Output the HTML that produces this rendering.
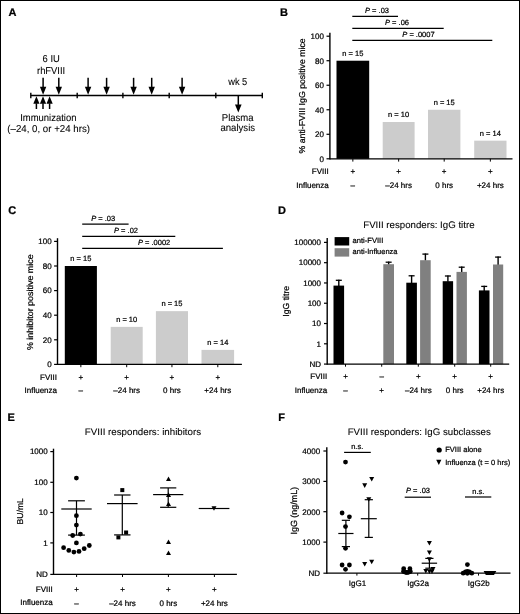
<!DOCTYPE html>
<html><head><meta charset="utf-8"><style>
html,body{margin:0;padding:0;background:#fff;}
svg{display:block;}
text{font-family:"Liberation Sans", sans-serif;stroke:#000;stroke-width:0.22px;text-rendering:geometricPrecision;}
text.L{stroke-width:0.08px;}
svg{will-change:transform;}
</style></head><body>
<svg width="520" height="614" viewBox="0 0 520 614" font-family='"Liberation Sans", sans-serif'>
<rect width="520" height="614" fill="#fff"/>
<rect x="0.5" y="0.5" width="519" height="613" fill="none" stroke="#000" stroke-width="1"/>
<text x="8.4" y="16.4" font-size="11" font-weight="bold">A</text>
<text x="280" y="16.4" font-size="11" font-weight="bold">B</text>
<text x="8.2" y="213.9" font-size="11" font-weight="bold">C</text>
<text x="278" y="213.7" font-size="11" font-weight="bold">D</text>
<text x="7.5" y="420.7" font-size="11" font-weight="bold">E</text>
<text x="278.2" y="420.7" font-size="11" font-weight="bold">F</text>
<text x="51.2" y="62.3" font-size="10" class="L" text-anchor="middle" textLength="17.2" lengthAdjust="spacingAndGlyphs">6 IU</text>
<text x="51.1" y="74" font-size="10" class="L" text-anchor="middle" textLength="28.2" lengthAdjust="spacingAndGlyphs">rhFVIII</text>
<line x1="43.1" y1="77.8" x2="43.1" y2="87.2" stroke="#000" stroke-width="1.5"/>
<path d="M39.9 86.7L43.1 94.8L46.3 86.7Z"/>
<line x1="58.8" y1="77.8" x2="58.8" y2="87.2" stroke="#000" stroke-width="1.5"/>
<path d="M55.6 86.7L58.8 94.8L62 86.7Z"/>
<line x1="88.1" y1="77.8" x2="88.1" y2="87.2" stroke="#000" stroke-width="1.5"/>
<path d="M84.9 86.7L88.1 94.8L91.3 86.7Z"/>
<line x1="106.6" y1="77.8" x2="106.6" y2="87.2" stroke="#000" stroke-width="1.5"/>
<path d="M103.4 86.7L106.6 94.8L109.8 86.7Z"/>
<line x1="133.6" y1="77.8" x2="133.6" y2="87.2" stroke="#000" stroke-width="1.5"/>
<path d="M130.4 86.7L133.6 94.8L136.8 86.7Z"/>
<line x1="151.7" y1="77.8" x2="151.7" y2="87.2" stroke="#000" stroke-width="1.5"/>
<path d="M148.5 86.7L151.7 94.8L154.9 86.7Z"/>
<line x1="182.1" y1="77.8" x2="182.1" y2="87.2" stroke="#000" stroke-width="1.5"/>
<path d="M178.9 86.7L182.1 94.8L185.3 86.7Z"/>
<line x1="30.8" y1="95.5" x2="262.3" y2="95.5" stroke="#000" stroke-width="1.3"/>
<line x1="30.8" y1="92.7" x2="30.8" y2="98.2" stroke="#000" stroke-width="1.4"/>
<line x1="77.2" y1="92.7" x2="77.2" y2="98.2" stroke="#000" stroke-width="1.4"/>
<line x1="122.9" y1="92.7" x2="122.9" y2="98.2" stroke="#000" stroke-width="1.4"/>
<line x1="169.2" y1="92.7" x2="169.2" y2="98.2" stroke="#000" stroke-width="1.4"/>
<line x1="215.8" y1="92.7" x2="215.8" y2="98.2" stroke="#000" stroke-width="1.4"/>
<line x1="262.3" y1="92.7" x2="262.3" y2="98.2" stroke="#000" stroke-width="1.4"/>
<line x1="36.4" y1="109" x2="36.4" y2="103.3" stroke="#000" stroke-width="1.5"/>
<path d="M33.3 103.8L36.4 96.3L39.5 103.8Z"/>
<line x1="43" y1="109" x2="43" y2="103.3" stroke="#000" stroke-width="1.5"/>
<path d="M39.9 103.8L43 96.3L46.1 103.8Z"/>
<line x1="49.6" y1="109" x2="49.6" y2="103.3" stroke="#000" stroke-width="1.5"/>
<path d="M46.5 103.8L49.6 96.3L52.7 103.8Z"/>
<text x="48.35" y="120.8" font-size="10" class="L" text-anchor="middle" textLength="56.3" lengthAdjust="spacingAndGlyphs">Immunization</text>
<text x="48.65" y="131.9" font-size="10" class="L" text-anchor="middle" textLength="82.7" lengthAdjust="spacingAndGlyphs">(–24, 0, or +24 hrs)</text>
<text x="237.75" y="84.8" font-size="10" class="L" text-anchor="middle" textLength="19.1" lengthAdjust="spacingAndGlyphs">wk 5</text>
<line x1="238.3" y1="95.5" x2="238.3" y2="104.9" stroke="#000" stroke-width="1.5"/>
<path d="M235 104.4L238.3 112.4L241.6 104.4Z"/>
<text x="237.7" y="121" font-size="10" class="L" text-anchor="middle" textLength="31.8" lengthAdjust="spacingAndGlyphs">Plasma</text>
<text x="237.75" y="130.8" font-size="10" class="L" text-anchor="middle" textLength="34.7" lengthAdjust="spacingAndGlyphs">analysis</text>
<line x1="352.3" y1="16.3" x2="398" y2="16.3" stroke="#000" stroke-width="1.3"/>
<text x="365" y="12.8" font-size="7.5"><tspan font-style="italic">P</tspan> = .03</text>
<line x1="352.3" y1="28.4" x2="443.7" y2="28.4" stroke="#000" stroke-width="1.3"/>
<text x="385" y="24.7" font-size="7.5"><tspan font-style="italic">P</tspan> = .06</text>
<line x1="352.3" y1="40.4" x2="492.3" y2="40.4" stroke="#000" stroke-width="1.3"/>
<text x="402.3" y="36.6" font-size="7.5"><tspan font-style="italic">P</tspan> = .0007</text>
<line x1="329.9" y1="32.8" x2="329.9" y2="159.4" stroke="#000" stroke-width="1.4"/>
<line x1="326.5" y1="158.8" x2="329.9" y2="158.8" stroke="#000" stroke-width="1.2"/>
<text x="323.9" y="161.6" font-size="8" text-anchor="end">0</text>
<line x1="326.5" y1="134.28" x2="329.9" y2="134.28" stroke="#000" stroke-width="1.2"/>
<text x="323.9" y="137.08" font-size="8" text-anchor="end">20</text>
<line x1="326.5" y1="109.76" x2="329.9" y2="109.76" stroke="#000" stroke-width="1.2"/>
<text x="323.9" y="112.56" font-size="8" text-anchor="end">40</text>
<line x1="326.5" y1="85.24" x2="329.9" y2="85.24" stroke="#000" stroke-width="1.2"/>
<text x="323.9" y="88.04" font-size="8" text-anchor="end">60</text>
<line x1="326.5" y1="60.72" x2="329.9" y2="60.72" stroke="#000" stroke-width="1.2"/>
<text x="323.9" y="63.52" font-size="8" text-anchor="end">80</text>
<line x1="326.5" y1="36.2" x2="329.9" y2="36.2" stroke="#000" stroke-width="1.2"/>
<text x="323.9" y="39" font-size="8" text-anchor="end">100</text>
<text x="305.2" y="95.9" font-size="8.6" text-anchor="middle" textLength="115.2" lengthAdjust="spacingAndGlyphs" transform="rotate(-90 305.2 95.9)">% anti-FVIII IgG positive mice</text>
<rect x="336.5" y="60.72" width="32.7" height="98.08" fill="#000"/>
<rect x="382.7" y="122.02" width="31.9" height="36.78" fill="#cccccc"/>
<rect x="428" y="109.76" width="32.4" height="49.04" fill="#cccccc"/>
<rect x="474.2" y="140.66" width="32.3" height="18.14" fill="#cccccc"/>
<text x="352.85" y="56.12" font-size="7.5" text-anchor="middle">n = 15</text>
<text x="398.65" y="117.42" font-size="7.5" text-anchor="middle">n = 10</text>
<text x="444.2" y="105.16" font-size="7.5" text-anchor="middle">n = 15</text>
<text x="490.35" y="136.06" font-size="7.5" text-anchor="middle">n = 14</text>
<line x1="329.9" y1="158.8" x2="512.5" y2="158.8" stroke="#000" stroke-width="1.3"/>
<line x1="352.85" y1="158.8" x2="352.85" y2="161.6" stroke="#000" stroke-width="1"/>
<text x="352.85" y="174.3" font-size="8" text-anchor="middle">+</text>
<text x="352.85" y="187.6" font-size="8" text-anchor="middle">–</text>
<line x1="398.65" y1="158.8" x2="398.65" y2="161.6" stroke="#000" stroke-width="1"/>
<text x="398.65" y="174.3" font-size="8" text-anchor="middle">+</text>
<text x="398.65" y="187.6" font-size="8" text-anchor="middle">–24 hrs</text>
<line x1="444.2" y1="158.8" x2="444.2" y2="161.6" stroke="#000" stroke-width="1"/>
<text x="444.2" y="174.3" font-size="8" text-anchor="middle">+</text>
<text x="444.2" y="187.6" font-size="8" text-anchor="middle">0 hrs</text>
<line x1="490.35" y1="158.8" x2="490.35" y2="161.6" stroke="#000" stroke-width="1"/>
<text x="490.35" y="174.3" font-size="8" text-anchor="middle">+</text>
<text x="490.35" y="187.6" font-size="8" text-anchor="middle">+24 hrs</text>
<text x="328.75" y="174.2" font-size="8" text-anchor="end">FVIII</text>
<text x="328.75" y="187.5" font-size="8" text-anchor="end">Influenza</text>
<line x1="82.2" y1="224.2" x2="128.6" y2="224.2" stroke="#000" stroke-width="1.3"/>
<text x="91.2" y="220.6" font-size="7.5"><tspan font-style="italic">P</tspan> = .03</text>
<line x1="82.2" y1="236.3" x2="175.3" y2="236.3" stroke="#000" stroke-width="1.3"/>
<text x="114" y="232.6" font-size="7.5"><tspan font-style="italic">P</tspan> = .02</text>
<line x1="82.2" y1="248.45" x2="222.9" y2="248.45" stroke="#000" stroke-width="1.3"/>
<text x="137.9" y="244.6" font-size="7.5"><tspan font-style="italic">P</tspan> = .0002</text>
<line x1="57.5" y1="238.2" x2="57.5" y2="365" stroke="#000" stroke-width="1.4"/>
<line x1="54.1" y1="364.4" x2="57.5" y2="364.4" stroke="#000" stroke-width="1.2"/>
<text x="51.6" y="367.2" font-size="8" text-anchor="end">0</text>
<line x1="54.1" y1="339.8" x2="57.5" y2="339.8" stroke="#000" stroke-width="1.2"/>
<text x="51.6" y="342.6" font-size="8" text-anchor="end">20</text>
<line x1="54.1" y1="315.2" x2="57.5" y2="315.2" stroke="#000" stroke-width="1.2"/>
<text x="51.6" y="318" font-size="8" text-anchor="end">40</text>
<line x1="54.1" y1="290.6" x2="57.5" y2="290.6" stroke="#000" stroke-width="1.2"/>
<text x="51.6" y="293.4" font-size="8" text-anchor="end">60</text>
<line x1="54.1" y1="266" x2="57.5" y2="266" stroke="#000" stroke-width="1.2"/>
<text x="51.6" y="268.8" font-size="8" text-anchor="end">80</text>
<line x1="54.1" y1="241.4" x2="57.5" y2="241.4" stroke="#000" stroke-width="1.2"/>
<text x="51.6" y="244.2" font-size="8" text-anchor="end">100</text>
<text x="33.2" y="302.2" font-size="8.6" text-anchor="middle" textLength="95.7" lengthAdjust="spacingAndGlyphs" transform="rotate(-90 33.2 302.2)">% inhibitor positive mice</text>
<rect x="64.8" y="266" width="32.1" height="98.4" fill="#000"/>
<rect x="110.7" y="326.88" width="32" height="37.51" fill="#cccccc"/>
<rect x="155.9" y="311.14" width="32.1" height="53.26" fill="#cccccc"/>
<rect x="201.5" y="349.89" width="32.6" height="14.51" fill="#cccccc"/>
<text x="80.85" y="261.2" font-size="7.5" text-anchor="middle">n = 15</text>
<text x="126.7" y="322.08" font-size="7.5" text-anchor="middle">n = 10</text>
<text x="171.95" y="306.34" font-size="7.5" text-anchor="middle">n = 15</text>
<text x="217.8" y="345.09" font-size="7.5" text-anchor="middle">n = 14</text>
<line x1="57.5" y1="364.4" x2="241.9" y2="364.4" stroke="#000" stroke-width="1.3"/>
<line x1="80.85" y1="364.4" x2="80.85" y2="367.2" stroke="#000" stroke-width="1"/>
<text x="80.85" y="379.6" font-size="8" text-anchor="middle">+</text>
<text x="80.85" y="393.1" font-size="8" text-anchor="middle">–</text>
<line x1="126.7" y1="364.4" x2="126.7" y2="367.2" stroke="#000" stroke-width="1"/>
<text x="126.7" y="379.6" font-size="8" text-anchor="middle">+</text>
<text x="126.7" y="393.1" font-size="8" text-anchor="middle">–24 hrs</text>
<line x1="171.95" y1="364.4" x2="171.95" y2="367.2" stroke="#000" stroke-width="1"/>
<text x="171.95" y="379.6" font-size="8" text-anchor="middle">+</text>
<text x="171.95" y="393.1" font-size="8" text-anchor="middle">0 hrs</text>
<line x1="217.8" y1="364.4" x2="217.8" y2="367.2" stroke="#000" stroke-width="1"/>
<text x="217.8" y="379.6" font-size="8" text-anchor="middle">+</text>
<text x="217.8" y="393.1" font-size="8" text-anchor="middle">+24 hrs</text>
<text x="57" y="379.5" font-size="8" text-anchor="end">FVIII</text>
<text x="57" y="393" font-size="8" text-anchor="end">Influenza</text>
<text x="418.9" y="227.6" font-size="9.5" class="L" text-anchor="middle" textLength="111.25" lengthAdjust="spacingAndGlyphs">FVIII responders: IgG titre</text>
<rect x="334.6" y="237.1" width="14.6" height="8.4" fill="#000"/>
<rect x="334.6" y="248.2" width="14.6" height="8.4" fill="#808080"/>
<text x="352.6" y="243.2" font-size="7.5" textLength="30.7" lengthAdjust="spacingAndGlyphs">anti-FVIII</text>
<text x="352.6" y="254.4" font-size="7.5" textLength="44.9" lengthAdjust="spacingAndGlyphs">anti-Influenza</text>
<line x1="327.2" y1="237.9" x2="327.2" y2="364.68" stroke="#000" stroke-width="1.4"/>
<line x1="324" y1="242.4" x2="327.2" y2="242.4" stroke="#000" stroke-width="1.2"/>
<text x="321" y="245.2" font-size="8" text-anchor="end">100000</text>
<line x1="324" y1="262.68" x2="327.2" y2="262.68" stroke="#000" stroke-width="1.2"/>
<text x="321" y="265.48" font-size="8" text-anchor="end">10000</text>
<line x1="324" y1="282.96" x2="327.2" y2="282.96" stroke="#000" stroke-width="1.2"/>
<text x="321" y="285.76" font-size="8" text-anchor="end">1000</text>
<line x1="324" y1="303.24" x2="327.2" y2="303.24" stroke="#000" stroke-width="1.2"/>
<text x="321" y="306.04" font-size="8" text-anchor="end">100</text>
<line x1="324" y1="323.52" x2="327.2" y2="323.52" stroke="#000" stroke-width="1.2"/>
<text x="321" y="326.32" font-size="8" text-anchor="end">10</text>
<line x1="324" y1="343.8" x2="327.2" y2="343.8" stroke="#000" stroke-width="1.2"/>
<text x="321" y="346.6" font-size="8" text-anchor="end">1</text>
<line x1="324" y1="364.08" x2="327.2" y2="364.08" stroke="#000" stroke-width="1.2"/>
<text x="321" y="366.88" font-size="8" text-anchor="end">ND</text>
<text x="288.9" y="301.25" font-size="8.7" text-anchor="middle" textLength="30.9" lengthAdjust="spacingAndGlyphs" transform="rotate(-90 288.9 301.25)">IgG titre</text>
<line x1="338.8" y1="279.7" x2="338.8" y2="286.1" stroke="#000" stroke-width="1.4"/>
<line x1="335.8" y1="280.3" x2="341.8" y2="280.3" stroke="#000" stroke-width="1.3"/>
<rect x="333.5" y="285.6" width="10.6" height="78.48" fill="#000"/>
<line x1="388.65" y1="261.6" x2="388.65" y2="264.7" stroke="#000" stroke-width="1.4"/>
<line x1="385.65" y1="262.2" x2="391.65" y2="262.2" stroke="#000" stroke-width="1.3"/>
<rect x="383.3" y="264.2" width="10.7" height="99.88" fill="#808080"/>
<line x1="411.6" y1="275.2" x2="411.6" y2="283.2" stroke="#000" stroke-width="1.4"/>
<line x1="408.6" y1="275.8" x2="414.6" y2="275.8" stroke="#000" stroke-width="1.3"/>
<rect x="406.3" y="282.7" width="10.6" height="81.38" fill="#000"/>
<line x1="425.4" y1="253.5" x2="425.4" y2="260.7" stroke="#000" stroke-width="1.4"/>
<line x1="422.4" y1="254.1" x2="428.4" y2="254.1" stroke="#000" stroke-width="1.3"/>
<rect x="420.1" y="260.2" width="10.6" height="103.88" fill="#808080"/>
<line x1="447.9" y1="275.4" x2="447.9" y2="281.7" stroke="#000" stroke-width="1.4"/>
<line x1="444.9" y1="276" x2="450.9" y2="276" stroke="#000" stroke-width="1.3"/>
<rect x="442.7" y="281.2" width="10.4" height="82.88" fill="#000"/>
<line x1="461.7" y1="266.6" x2="461.7" y2="272.4" stroke="#000" stroke-width="1.4"/>
<line x1="458.7" y1="267.2" x2="464.7" y2="267.2" stroke="#000" stroke-width="1.3"/>
<rect x="456.5" y="271.9" width="10.4" height="92.18" fill="#808080"/>
<line x1="484.2" y1="285.8" x2="484.2" y2="290.9" stroke="#000" stroke-width="1.4"/>
<line x1="481.2" y1="286.4" x2="487.2" y2="286.4" stroke="#000" stroke-width="1.3"/>
<rect x="478.9" y="290.4" width="10.6" height="73.68" fill="#000"/>
<line x1="498.1" y1="256.5" x2="498.1" y2="265" stroke="#000" stroke-width="1.4"/>
<line x1="495.1" y1="257.1" x2="501.1" y2="257.1" stroke="#000" stroke-width="1.3"/>
<rect x="493" y="264.5" width="10.2" height="99.58" fill="#808080"/>
<line x1="327.2" y1="364.08" x2="509.2" y2="364.08" stroke="#000" stroke-width="1.3"/>
<line x1="345.5" y1="364.08" x2="345.5" y2="366.68" stroke="#000" stroke-width="1"/>
<text x="345.5" y="379" font-size="8" text-anchor="middle">+</text>
<text x="345.5" y="393.2" font-size="8" text-anchor="middle">–</text>
<line x1="381.7" y1="364.08" x2="381.7" y2="366.68" stroke="#000" stroke-width="1"/>
<text x="381.7" y="379" font-size="8" text-anchor="middle">–</text>
<text x="381.7" y="393.2" font-size="8" text-anchor="middle">+</text>
<line x1="418.3" y1="364.08" x2="418.3" y2="366.68" stroke="#000" stroke-width="1"/>
<text x="418.3" y="379" font-size="8" text-anchor="middle">+</text>
<text x="418.3" y="393.2" font-size="8" text-anchor="middle">–24 hrs</text>
<line x1="454.7" y1="364.08" x2="454.7" y2="366.68" stroke="#000" stroke-width="1"/>
<text x="454.7" y="379" font-size="8" text-anchor="middle">+</text>
<text x="454.7" y="393.2" font-size="8" text-anchor="middle">0 hrs</text>
<line x1="490.7" y1="364.08" x2="490.7" y2="366.68" stroke="#000" stroke-width="1"/>
<text x="490.7" y="379" font-size="8" text-anchor="middle">+</text>
<text x="490.7" y="393.2" font-size="8" text-anchor="middle">+24 hrs</text>
<text x="327.2" y="378.9" font-size="8" text-anchor="end">FVIII</text>
<text x="327.2" y="393.2" font-size="8" text-anchor="end">Influenza</text>
<text x="142.95" y="434.8" font-size="9.5" class="L" text-anchor="middle" textLength="116.3" lengthAdjust="spacingAndGlyphs">FVIII responders: inhibitors</text>
<line x1="53.5" y1="448.7" x2="53.5" y2="575" stroke="#000" stroke-width="1.4"/>
<line x1="50.3" y1="451.6" x2="53.5" y2="451.6" stroke="#000" stroke-width="1.2"/>
<text x="47.7" y="454.4" font-size="8" text-anchor="end">1000</text>
<line x1="50.3" y1="482.3" x2="53.5" y2="482.3" stroke="#000" stroke-width="1.2"/>
<text x="47.7" y="485.1" font-size="8" text-anchor="end">100</text>
<line x1="50.3" y1="512.5" x2="53.5" y2="512.5" stroke="#000" stroke-width="1.2"/>
<text x="47.7" y="515.3" font-size="8" text-anchor="end">10</text>
<line x1="50.3" y1="542.9" x2="53.5" y2="542.9" stroke="#000" stroke-width="1.2"/>
<text x="47.7" y="545.7" font-size="8" text-anchor="end">1</text>
<line x1="50.3" y1="574.4" x2="53.5" y2="574.4" stroke="#000" stroke-width="1.2"/>
<text x="47.7" y="577.2" font-size="8" text-anchor="end">ND</text>
<text x="23.5" y="511.3" font-size="8.6" text-anchor="middle" textLength="26.3" lengthAdjust="spacingAndGlyphs" transform="rotate(-90 23.5 511.3)">BU/mL</text>
<line x1="53.5" y1="574.4" x2="236.9" y2="574.4" stroke="#000" stroke-width="1.3"/>
<line x1="76.6" y1="574.4" x2="76.6" y2="577" stroke="#000" stroke-width="1"/>
<line x1="122.5" y1="574.4" x2="122.5" y2="577" stroke="#000" stroke-width="1"/>
<line x1="168.4" y1="574.4" x2="168.4" y2="577" stroke="#000" stroke-width="1"/>
<line x1="214.4" y1="574.4" x2="214.4" y2="577" stroke="#000" stroke-width="1"/>
<line x1="61.3" y1="509" x2="91.7" y2="509" stroke="#000" stroke-width="1.2"/>
<line x1="76.5" y1="500.8" x2="76.5" y2="535.1" stroke="#000" stroke-width="1.2"/>
<line x1="68.1" y1="500.8" x2="84.9" y2="500.8" stroke="#000" stroke-width="1.2"/>
<line x1="68.1" y1="535.1" x2="84.9" y2="535.1" stroke="#000" stroke-width="1.2"/>
<circle cx="76.4" cy="478.1" r="2.4"/>
<circle cx="76.4" cy="515.7" r="2.4"/>
<circle cx="76.4" cy="525.1" r="2.4"/>
<circle cx="72.7" cy="535.5" r="2.4"/>
<circle cx="80.4" cy="534.1" r="2.4"/>
<circle cx="76.4" cy="542.9" r="2.4"/>
<circle cx="63.6" cy="547.7" r="2.4"/>
<circle cx="68.8" cy="550.4" r="2.4"/>
<circle cx="73.9" cy="552.1" r="2.4"/>
<circle cx="79" cy="551.4" r="2.4"/>
<circle cx="84.2" cy="548.7" r="2.4"/>
<circle cx="89.3" cy="545.5" r="2.4"/>
<line x1="107" y1="503.6" x2="137.6" y2="503.6" stroke="#000" stroke-width="1.2"/>
<line x1="122.3" y1="495" x2="122.3" y2="534.9" stroke="#000" stroke-width="1.2"/>
<line x1="114.1" y1="495" x2="130.5" y2="495" stroke="#000" stroke-width="1.2"/>
<line x1="114.1" y1="534.9" x2="130.5" y2="534.9" stroke="#000" stroke-width="1.2"/>
<rect x="120.3" y="488.1" width="4" height="4" fill="#000"/>
<rect x="124.1" y="530.5" width="4" height="4" fill="#000"/>
<rect x="116.4" y="535.4" width="4" height="4" fill="#000"/>
<line x1="153.1" y1="494.6" x2="183.3" y2="494.6" stroke="#000" stroke-width="1.2"/>
<line x1="168.2" y1="487.9" x2="168.2" y2="507.3" stroke="#000" stroke-width="1.2"/>
<line x1="160.1" y1="487.9" x2="176.3" y2="487.9" stroke="#000" stroke-width="1.2"/>
<line x1="160.1" y1="507.3" x2="176.3" y2="507.3" stroke="#000" stroke-width="1.2"/>
<path d="M166 481L168.5 476.4L171 481Z"/>
<path d="M166 496.9L168.5 492.3L171 496.9Z"/>
<path d="M166 506.1L168.5 501.5L171 506.1Z"/>
<path d="M166 544L168.5 539.4L171 544Z"/>
<path d="M166 555L168.5 550.4L171 555Z"/>
<line x1="198.7" y1="508.5" x2="229.4" y2="508.5" stroke="#000" stroke-width="1.2"/>
<path d="M211.5 506.2L214 510.8L216.5 506.2Z"/>
<text x="76.6" y="591.6" font-size="8" text-anchor="middle">+</text>
<text x="76.6" y="605.5" font-size="8" text-anchor="middle">–</text>
<text x="122.5" y="591.6" font-size="8" text-anchor="middle">+</text>
<text x="122.5" y="605.5" font-size="8" text-anchor="middle">–24 hrs</text>
<text x="168.4" y="591.6" font-size="8" text-anchor="middle">+</text>
<text x="168.4" y="605.5" font-size="8" text-anchor="middle">0 hrs</text>
<text x="214.4" y="591.6" font-size="8" text-anchor="middle">+</text>
<text x="214.4" y="605.5" font-size="8" text-anchor="middle">+24 hrs</text>
<text x="52.7" y="591.5" font-size="8" text-anchor="end">FVIII</text>
<text x="52.7" y="605.4" font-size="8" text-anchor="end">Influenza</text>
<text x="419.25" y="434.5" font-size="9.5" class="L" text-anchor="middle" textLength="143.1" lengthAdjust="spacingAndGlyphs">FVIII responders: IgG subclasses</text>
<circle cx="439.2" cy="450" r="2.6"/>
<text x="445.2" y="451.9" font-size="7.5" textLength="36.5" lengthAdjust="spacingAndGlyphs">FVIII alone</text>
<path d="M436.2 459.7L438.8 464.9L441.4 459.7Z"/>
<text x="445.2" y="465" font-size="7.5" textLength="65" lengthAdjust="spacingAndGlyphs">Influenza (t = 0 hrs)</text>
<line x1="326.8" y1="447.3" x2="326.8" y2="573.8" stroke="#000" stroke-width="1.4"/>
<line x1="323.4" y1="451" x2="326.8" y2="451" stroke="#000" stroke-width="1.2"/>
<text x="320.1" y="453.8" font-size="8" text-anchor="end">4000</text>
<line x1="323.4" y1="481.4" x2="326.8" y2="481.4" stroke="#000" stroke-width="1.2"/>
<text x="320.1" y="484.2" font-size="8" text-anchor="end">3000</text>
<line x1="323.4" y1="511.7" x2="326.8" y2="511.7" stroke="#000" stroke-width="1.2"/>
<text x="320.1" y="514.5" font-size="8" text-anchor="end">2000</text>
<line x1="323.4" y1="542.1" x2="326.8" y2="542.1" stroke="#000" stroke-width="1.2"/>
<text x="320.1" y="544.9" font-size="8" text-anchor="end">1000</text>
<line x1="323.4" y1="573.2" x2="326.8" y2="573.2" stroke="#000" stroke-width="1.2"/>
<text x="320.1" y="576" font-size="8" text-anchor="end">ND</text>
<text x="297.3" y="510.7" font-size="8.9" text-anchor="middle" textLength="47.6" lengthAdjust="spacingAndGlyphs" transform="rotate(-90 297.3 510.7)">IgG (ng/mL)</text>
<line x1="326.8" y1="573.2" x2="510.5" y2="573.2" stroke="#000" stroke-width="1.3"/>
<line x1="356.9" y1="573.2" x2="356.9" y2="575.6" stroke="#000" stroke-width="1"/>
<line x1="417.7" y1="573.2" x2="417.7" y2="575.6" stroke="#000" stroke-width="1"/>
<line x1="478.5" y1="573.2" x2="478.5" y2="575.6" stroke="#000" stroke-width="1"/>
<line x1="344.1" y1="452.4" x2="370.8" y2="452.4" stroke="#000" stroke-width="1.2"/>
<text x="357.2" y="448.9" font-size="7.5" text-anchor="middle">n.s.</text>
<line x1="404.7" y1="497.2" x2="431" y2="497.2" stroke="#000" stroke-width="1.2"/>
<text x="418" y="493.3" font-size="7.5" text-anchor="middle"><tspan font-style="italic">P</tspan> = .03</text>
<line x1="465" y1="497" x2="491.3" y2="497" stroke="#000" stroke-width="1.2"/>
<text x="478.3" y="493.6" font-size="7.5" text-anchor="middle">n.s.</text>
<line x1="338.3" y1="533.5" x2="353.5" y2="533.5" stroke="#000" stroke-width="1.2"/>
<line x1="345.9" y1="520.3" x2="345.9" y2="546.6" stroke="#000" stroke-width="1.2"/>
<line x1="341.8" y1="520.3" x2="350" y2="520.3" stroke="#000" stroke-width="1.2"/>
<line x1="341.8" y1="546.6" x2="350" y2="546.6" stroke="#000" stroke-width="1.2"/>
<circle cx="345.5" cy="462.1" r="2.4"/>
<circle cx="342.1" cy="513" r="2.4"/>
<circle cx="349.4" cy="516.8" r="2.4"/>
<circle cx="345.5" cy="526.6" r="2.4"/>
<circle cx="345.5" cy="548.3" r="2.4"/>
<circle cx="342.1" cy="565" r="2.4"/>
<circle cx="349.4" cy="565" r="2.4"/>
<circle cx="345.5" cy="569.3" r="2.4"/>
<line x1="360.8" y1="518.7" x2="376.8" y2="518.7" stroke="#000" stroke-width="1.2"/>
<line x1="368.8" y1="499.7" x2="368.8" y2="537.4" stroke="#000" stroke-width="1.2"/>
<line x1="364.7" y1="499.7" x2="372.9" y2="499.7" stroke="#000" stroke-width="1.2"/>
<line x1="364.7" y1="537.4" x2="372.9" y2="537.4" stroke="#000" stroke-width="1.2"/>
<path d="M369.2 476.9L371.7 481.5L374.2 476.9Z"/>
<path d="M362.2 483.3L364.7 487.9L367.2 483.3Z"/>
<path d="M366.3 497.2L368.8 501.8L371.3 497.2Z"/>
<path d="M362.2 562L364.7 566.6L367.2 562Z"/>
<path d="M369.2 559.7L371.7 564.3L374.2 559.7Z"/>
<circle cx="403.7" cy="568.7" r="2.4"/>
<circle cx="409.9" cy="568.7" r="2.4"/>
<circle cx="405.5" cy="572.3" r="2.4"/>
<circle cx="408.3" cy="572.3" r="2.4"/>
<circle cx="406.9" cy="572.5" r="2.4"/>
<circle cx="403.5" cy="571.5" r="2.4"/>
<circle cx="410.3" cy="571.5" r="2.4"/>
<line x1="421.7" y1="563.2" x2="437.1" y2="563.2" stroke="#000" stroke-width="1.2"/>
<line x1="429.4" y1="558.4" x2="429.4" y2="568.2" stroke="#000" stroke-width="1.2"/>
<line x1="425.3" y1="558.4" x2="433.5" y2="558.4" stroke="#000" stroke-width="1.2"/>
<line x1="425.3" y1="568.2" x2="433.5" y2="568.2" stroke="#000" stroke-width="1.2"/>
<path d="M426.9 540.9L429.4 545.5L431.9 540.9Z"/>
<path d="M426.9 550.5L429.4 555.1L431.9 550.5Z"/>
<path d="M426.9 557.3L429.4 561.9L431.9 557.3Z"/>
<path d="M430.5 567L433 571.6L435.5 567Z"/>
<path d="M423.3 569L425.8 573.6L428.3 569Z"/>
<path d="M426.9 569.3L429.4 573.9L431.9 569.3Z"/>
<path d="M429.5 569.3L432 573.9L434.5 569.3Z"/>
<circle cx="467.4" cy="564.6" r="2.4"/>
<circle cx="463.2" cy="573.2" r="2.4"/>
<circle cx="465.5" cy="572" r="2.4"/>
<circle cx="467.4" cy="571.5" r="2.4"/>
<circle cx="469.4" cy="572" r="2.4"/>
<circle cx="471.8" cy="573.2" r="2.4"/>
<circle cx="467.4" cy="573.3" r="2.4"/>
<path d="M483.6 570.9L496.3 570.9L494 575.1L485.8 575.1Z"/>
<text x="357.5" y="586.4" font-size="8" text-anchor="middle">IgG1</text>
<text x="418.1" y="586.4" font-size="8" text-anchor="middle">IgG2a</text>
<text x="478.7" y="586.4" font-size="8" text-anchor="middle">IgG2b</text>
</svg>
</body></html>
